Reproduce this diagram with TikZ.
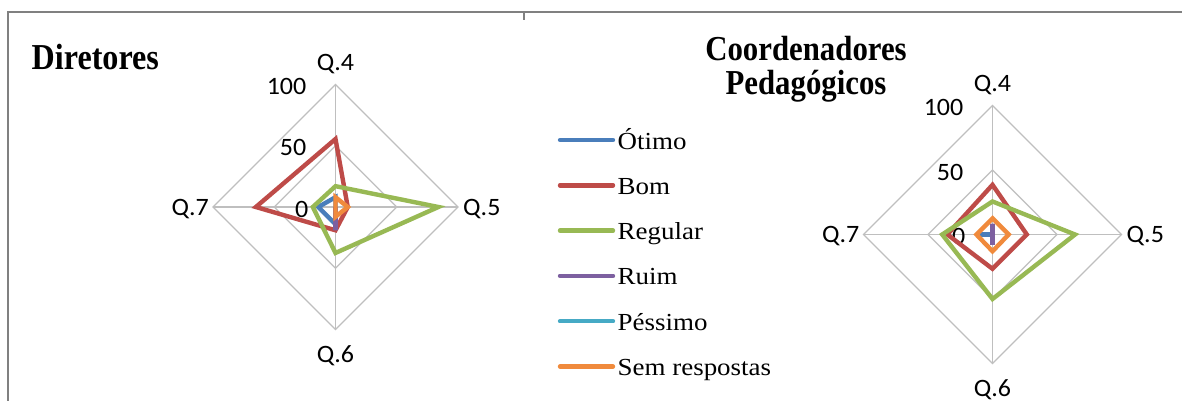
\documentclass[tikz,border=0pt]{standalone}
\usepackage{fontspec}
\setmainfont{Liberation Serif}[FakeStretch=1.1]
\newfontfamily\titlefont{Liberation Serif}[FakeStretch=0.88]
\newfontfamily\axisfont{Carlito}[FakeStretch=1.04]
\definecolor{cOtimo}{HTML}{4A7EBB}
\definecolor{cBom}{HTML}{BE4B48}
\definecolor{cRegular}{HTML}{98B954}
\definecolor{cRuim}{HTML}{7D60A0}
\definecolor{cPessimo}{HTML}{46AAC5}
\definecolor{cSem}{HTML}{F08A3C}
\definecolor{cGrid}{HTML}{BFBFBF}
\definecolor{cFrame}{HTML}{808080}
\tikzset{
  gridline/.style={draw=cGrid, line width=1.1pt},
  series/.style={line width=4.4pt, line join=miter},
  legline/.style={line width=4.4pt, line cap=round},
  axlabel/.style={font=\axisfont\fontsize{25}{30}\selectfont, inner sep=0pt},
  leglabel/.style={font=\fontsize{24.5}{29}\selectfont, inner sep=0pt, anchor=base west},
  titlelabel/.style={font=\titlefont\bfseries\fontsize{35}{35}\selectfont, inner sep=0pt},
  frameline/.style={draw=cFrame, line width=2pt}
}
% cx cy R name
\newcommand\radargrid[4]{%
  \draw[gridline] ({#1},{#2-#3}) -- ({#1+#3},{#2}) -- ({#1},{#2+#3}) -- ({#1-#3},{#2}) -- cycle;
  \draw[gridline] ({#1},{#2-#3/2}) -- ({#1+#3/2},{#2}) -- ({#1},{#2+#3/2}) -- ({#1-#3/2},{#2}) -- cycle;
  \draw[gridline] ({#1},{#2-#3}) -- ({#1},{#2+#3});
  \draw[gridline] ({#1-#3},{#2}) -- ({#1+#3},{#2});
  \node[axlabel, anchor=base] (#4q4) at ({#1},{#2-#3-14}) {Q.4};
  \node[axlabel, anchor=base west] (#4q5) at ({#1+#3+5},{#2+8}) {Q.5};
  \node[axlabel, anchor=base] (#4q6) at ({#1},{#2+#3+33}) {Q.6};
  \node[axlabel, anchor=base east] (#4q7) at ({#1-#3-4},{#2+8}) {Q.7};
  \node[axlabel, anchor=base east] (#4t100) at ({#1-29},{#2-#3+10}) {100};
  \node[axlabel, anchor=base east] (#4t50) at ({#1-29},{#2-#3/2+10}) {50};
  \node[axlabel, anchor=base east] (#4t0) at ({#1-27},{#2+10}) {0};
}
% cx cy R v4 v5 v6 v7 colour
\newcommand\radarline[8]{%
  \draw[series, draw=#8] ({#1},{#2-#3*#4/100}) -- ({#1+#3*#5/100},{#2}) -- ({#1},{#2+#3*#6/100}) -- ({#1-#3*#7/100},{#2}) -- cycle;
}
\begin{document}
\begin{tikzpicture}[x=1pt,y=-1pt]
\useasboundingbox (0,0) rectangle (1182,401);
\fill[white] (0,0) rectangle (1182,401);
% frame
\draw[frameline] (7.5,401) -- (7.5,12.5) -- (1182,12.5);
\draw[frameline] (524,12.5) -- (524,20);

% titles
\node[titlelabel, anchor=base west, font=\titlefont\bfseries\fontsize{36.5}{36}\selectfont] (tdir) at (31.5,70) {Diretores};
\node[titlelabel, anchor=base] (tcoord1) at (806,60.5) {Coordenadores};
\node[titlelabel, anchor=base] (tcoord2) at (806,95) {Pedagógicos};

% left chart: Diretores
\radargrid{335.5}{207}{122.5}{L}
\radarline{335.5}{207}{122.5}{8}{0}{14}{14}{cOtimo}
\radarline{335.5}{207}{122.5}{55.5}{10}{19}{65}{cBom}
\radarline{335.5}{207}{122.5}{17}{84}{37.5}{18.5}{cRegular}
\radarline{335.5}{207}{122.5}{0}{0}{19}{0}{cRuim}
\radarline{335.5}{207}{122.5}{8}{10}{8}{0}{cSem}

% right chart: Coordenadores
\radargrid{992.5}{234.5}{129}{R}
\radarline{992.5}{234.5}{129}{0}{0}{0}{10}{cOtimo}
\radarline{992.5}{234.5}{129}{38.5}{26.6}{26.6}{35}{cBom}
\radarline{992.5}{234.5}{129}{25.6}{64}{50}{39}{cRegular}
\radarline{992.5}{234.5}{129}{8.5}{0}{8}{0}{cRuim}
\radarline{992.5}{234.5}{129}{12.5}{12.5}{13}{12.5}{cSem}

% legend
\foreach \i/\c/\t in {0/cOtimo/Ótimo,1/cBom/Bom,2/cRegular/Regular,3/cRuim/Ruim,4/cPessimo/Péssimo,5/cSem/Sem respostas}{
  \coordinate (ls\i) at (560,{140+45.3*\i});
  \coordinate (le\i) at (613,{140+45.3*\i});
  \draw[legline, draw=\c] (ls\i) -- (le\i);
  \node[leglabel] (lt\i) at (617.5,{149+45.3*\i}) {\t};
}
\end{tikzpicture}
\end{document}
